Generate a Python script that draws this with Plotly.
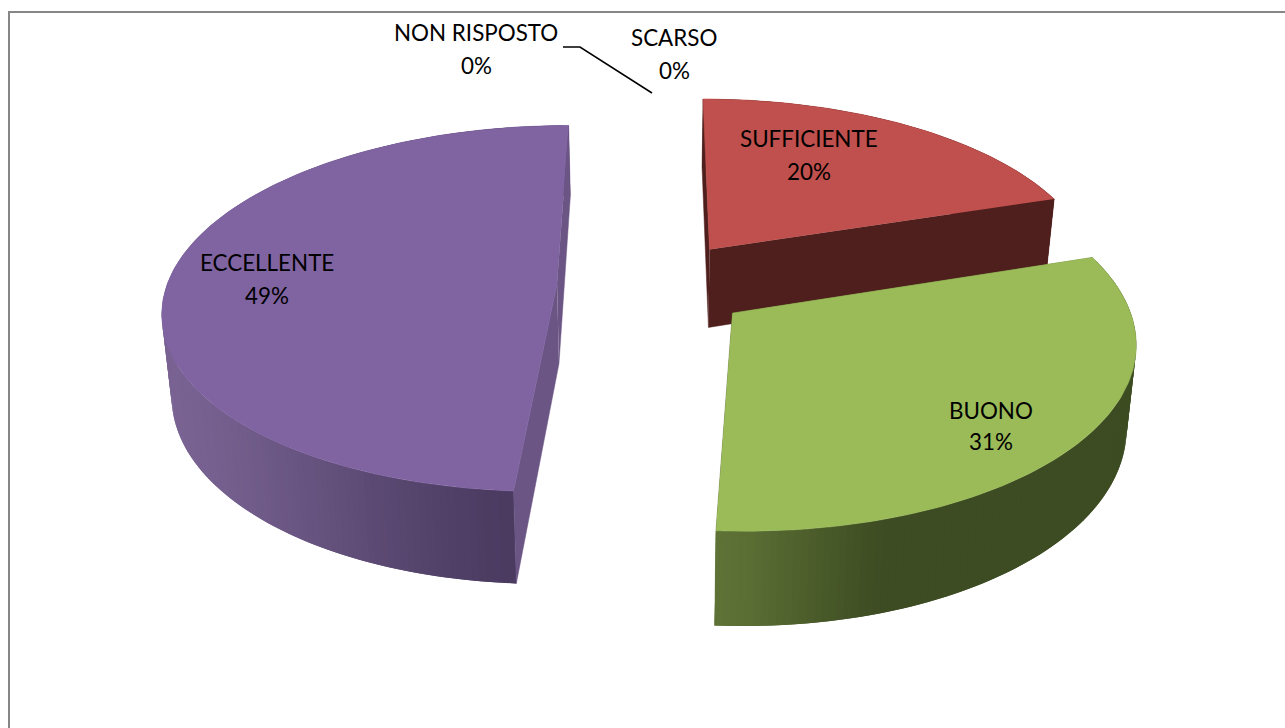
import numpy as np
import plotly.graph_objects as go

# --- data ---
categories = ["NON RISPOSTO", "SCARSO", "SUFFICIENTE", "BUONO", "ECCELLENTE"]
percent_values = [0, 0, 20, 31, 49]

# --- style ---
top_colors = {"SUFFICIENTE": "#c0504d", "BUONO": "#9bbb59", "ECCELLENTE": "#8064a2"}
cut_colors = {"SUFFICIENTE": "#4f1f1d", "BUONO": "#5f7337", "ECCELLENTE": "#6b5584"}
wall_ramp = {
    "SUFFICIENTE": ((700, "#4f1f1d"), (1100, "#4f1f1d")),
    "BUONO": ((716, "#5f7337"), (890, "#3d4c22")),
    "ECCELLENTE": ((172, "#7a6494"), (512, "#4b3b61")),
}
label_pos = {
    "NON RISPOSTO": (476, 32, 65),
    "SCARSO": (674, 37, 70),
    "SUFFICIENTE": (809, 138, 171),
    "BUONO": (991, 410, 441),
    "ECCELLENTE": (267, 262, 295),
}
FONT = "Lato"
FONT_SIZE = 22.4

# --- projection of the tilted pie (screen pixels) ---
CX, CY, RX, RY, PERSP, DEPTH, SHRINK = 654, 285, 390, 180, 0.136, 80, 0.98
EXPLODE_U, EXPLODE_V = 0.249, 0.25


def project(u, v, lower=False):
    w = 1 + PERSP * v
    x = RX * u / w
    y = CY - RY * v / w
    if lower:
        return CX + x * SHRINK, y + DEPTH / w
    return CX + x, y


def hex_rgb(c):
    return np.array([int(c[i:i + 2], 16) for i in (1, 3, 5)], float)


def ramp(name, x):
    (x0, c0), (x1, c1) = wall_ramp[name]
    t = np.clip((x - x0) / (x1 - x0), 0, 1)
    t = t * t * (3 - 2 * t) * 0.5 + t * 0.5
    r = hex_rgb(c0) * (1 - t) + hex_rgb(c1) * t
    return "rgb(%d,%d,%d)" % tuple(r)


def poly(fig, xs, ys, color, edge=0.0):
    fig.add_trace(go.Scatter(x=list(xs), y=list(ys), mode="lines", fill="toself", fillcolor=color,
                             line=dict(color=color, width=edge), hoverinfo="skip", showlegend=False))


fig = go.Figure()

total = sum(percent_values)
start = 0.0
slices = []
for name, val in zip(categories, percent_values):
    sweep = 2 * np.pi * val / total
    if val > 0:
        slices.append((name, start, start + sweep))
    start += sweep

# painter's order: far slice first, nearest slice last
for name, a0, a1 in sorted(slices, key=lambda s: np.cos((s[1] + s[2]) / 2), reverse=True):
    mid = (a0 + a1) / 2
    ou, ov = EXPLODE_U * np.sin(mid), EXPLODE_V * np.cos(mid)
    th = np.linspace(a0, a1, int(max(8, (a1 - a0) * 60)))
    u = ou + np.sin(th)
    v = ov + np.cos(th)
    upper = [project(a, b) for a, b in zip(u, v)]
    lower = [project(a, b, True) for a, b in zip(u, v)]
    ax0, ay0 = project(ou, ov)
    ax1, ay1 = project(ou, ov, True)
    # rim: overlapping shaded strips, each one painted over the end of the one before
    order = range(len(th) - 1)
    if name == "ECCELLENTE":
        order = reversed(list(order))
    for i in order:
        j = min(i + 2, len(th) - 1) if name != "ECCELLENTE" else i + 1
        k = i if name != "ECCELLENTE" else max(i - 1, 0)
        idx = list(range(k, j + 1))
        xs = [upper[n][0] for n in idx] + [lower[n][0] for n in reversed(idx)]
        ys = [upper[n][1] for n in idx] + [lower[n][1] for n in reversed(idx)]
        poly(fig, xs, ys, ramp(name, (lower[i][0] + lower[i + 1][0]) / 2))
    # cut faces
    for (px, py), (qx, qy) in ((upper[0], lower[0]), (upper[-1], lower[-1])):
        poly(fig, [ax0, px, qx, ax1], [ay0, py, qy, ay1], cut_colors[name], 0.5)
    # top face
    poly(fig, [ax0] + [p[0] for p in upper], [ay0] + [p[1] for p in upper], top_colors[name], 0.6)

# leader line
fig.add_trace(go.Scatter(x=[563, 580, 652], y=[47, 47, 93], mode="lines",
                         line=dict(color="black", width=1.5), hoverinfo="skip", showlegend=False))

for name, val in zip(categories, percent_values):
    x, y1, y2 = label_pos[name]
    for txt, y in ((name, y1), (f"{val}%", y2)):
        fig.add_annotation(x=x, y=y, text=txt, showarrow=False, xanchor="center", yanchor="middle",
                           font=dict(family=FONT, size=FONT_SIZE, color="black"))

BORDER = "#868686"
fig.add_shape(type="line", x0=9, x1=9, y0=11, y1=728, line=dict(color=BORDER, width=2))
fig.add_shape(type="line", x0=8, x1=1285, y0=12, y1=12, line=dict(color=BORDER, width=2))

fig.update_layout(
    width=1285, height=728, margin=dict(l=0, r=0, t=0, b=0),
    paper_bgcolor="white", plot_bgcolor="white", showlegend=False,
    xaxis=dict(range=[0, 1285], visible=False, fixedrange=True),
    yaxis=dict(range=[728, 0], visible=False, fixedrange=True),
)
fig.write_html("out.html", config={"displayModeBar": False},
               post_script="document.body.style.margin='0';document.body.style.overflow='hidden';")
